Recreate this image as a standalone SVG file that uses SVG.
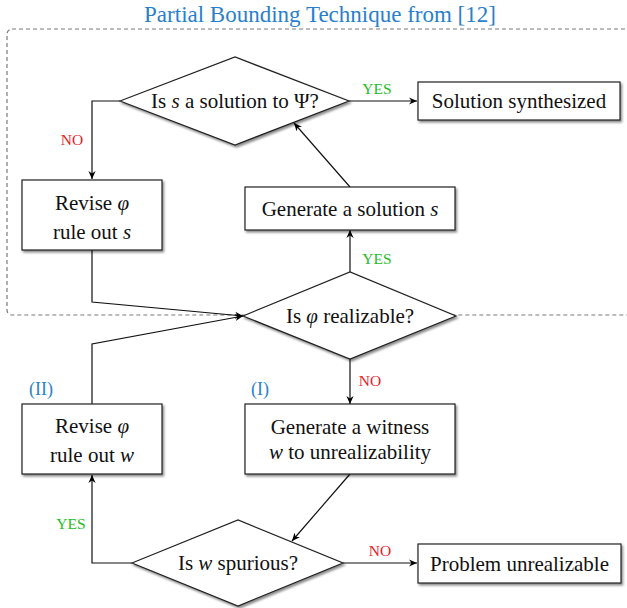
<svg xmlns="http://www.w3.org/2000/svg" width="627" height="608" viewBox="0 0 627 608">
<defs>
<filter id="sh" x="-10%" y="-10%" width="130%" height="140%">
<feDropShadow dx="1.5" dy="2" stdDeviation="1" flood-color="#000" flood-opacity="0.45"/>
</filter>
<marker id="ar" viewBox="-8 -4 9 8" markerWidth="9" markerHeight="8" refX="0" refY="0" orient="auto" markerUnits="userSpaceOnUse">
<path d="M0,0 L-8,-3.6 L-5.5,0 L-8,3.6 Z" fill="#000"/>
</marker>
</defs>
<style>
.t{font-family:"Liberation Serif","Times New Roman",serif;font-size:21px;fill:#111;text-anchor:middle;dominant-baseline:central}
.i{font-style:italic}
.lab{font-family:"Liberation Serif","Times New Roman",serif;font-size:15.5px;text-anchor:middle;dominant-baseline:central}
.yes{fill:#22bb22}
.no{fill:#e8202a}
.blue{fill:#2a7fcc}
.box{fill:#fff;stroke:#222;stroke-width:1.2;filter:url(#sh)}
.c{fill:none;stroke:#111;stroke-width:1.2}
</style>
<rect width="627" height="608" fill="#fff"/>
<text x="320" y="14" class="t blue" style="font-size:23px">Partial Bounding Technique from [12]</text>
<rect x="7" y="29" width="660" height="286" rx="5" fill="none" stroke="#7a7a7a" stroke-width="1.2" stroke-dasharray="4,3"/>
<g id="connectors">
<path class="c" d="M349,101 L417,101" marker-end="url(#ar)"/>
<path class="c" d="M120,101 L92,101 L92,179" marker-end="url(#ar)"/>
<path class="c" d="M92,250 L92,302 L243,316" marker-end="url(#ar)"/>
<path class="c" d="M92,404 L92,344 L243,316" marker-end="url(#ar)"/>
<path class="c" d="M350,272 L350,230" marker-end="url(#ar)"/>
<path class="c" d="M350,187 L294,123" marker-end="url(#ar)"/>
<path class="c" d="M350,359 L350,404" marker-end="url(#ar)"/>
<path class="c" d="M350,474 L292,541" marker-end="url(#ar)"/>
<path class="c" d="M132,563 L92,563 L92,475" marker-end="url(#ar)"/>
<path class="c" d="M343,563 L417,563" marker-end="url(#ar)"/>
<text x="377" y="88" class="lab yes">YES</text>
<text x="72" y="139" class="lab no">NO</text>
<text x="377" y="258" class="lab yes">YES</text>
<text x="370" y="380" class="lab no">NO</text>
<text x="71" y="523" class="lab yes">YES</text>
<text x="380" y="550" class="lab no">NO</text>
<text x="41" y="389" class="lab blue" style="font-size:18px">(II)</text>
<text x="260" y="389" class="lab blue" style="font-size:18px">(I)</text>
</g>
<g id="dA">
<polygon class="box" points="120,101 235,57 349,101 235,145"/>
<text x="235" y="101" class="t">Is <tspan class="i">s</tspan> a solution to Ψ?</text>
</g>
<g id="solution">
<rect class="box" x="418" y="82" width="202" height="38"/>
<text x="519" y="101" class="t">Solution synthesized</text>
</g>
<g id="reviseS">
<rect class="box" x="22" y="180" width="140" height="70"/>
<text x="92" y="203" class="t">Revise <tspan class="i">φ</tspan></text>
<text x="92" y="232" class="t">rule out <tspan class="i">s</tspan></text>
</g>
<g id="genS">
<rect class="box" x="245" y="187" width="210" height="43"/>
<text x="350" y="208.5" class="t">Generate a solution <tspan class="i">s</tspan></text>
</g>
<g id="dB">
<polygon class="box" points="243,316 350,272 456,316 350,359"/>
<text x="350" y="316" class="t">Is <tspan class="i">φ</tspan> realizable?</text>
</g>
<g id="reviseW">
<rect class="box" x="22" y="404" width="140" height="70"/>
<text x="92" y="426" class="t">Revise <tspan class="i">φ</tspan></text>
<text x="92" y="455" class="t">rule out <tspan class="i">w</tspan></text>
</g>
<g id="witness">
<rect class="box" x="245" y="404" width="210" height="70"/>
<text x="350" y="427" class="t">Generate a witness</text>
<text x="350" y="452" class="t"><tspan class="i">w</tspan> to unrealizability</text>
</g>
<g id="dC">
<polygon class="box" points="132,563 238,520 343,563 238,606"/>
<text x="238" y="563" class="t">Is <tspan class="i">w</tspan> spurious?</text>
</g>
<g id="unreal">
<rect class="box" x="418" y="544" width="203" height="39"/>
<text x="519.5" y="563.5" class="t">Problem unrealizable</text>
</g>
</svg>
